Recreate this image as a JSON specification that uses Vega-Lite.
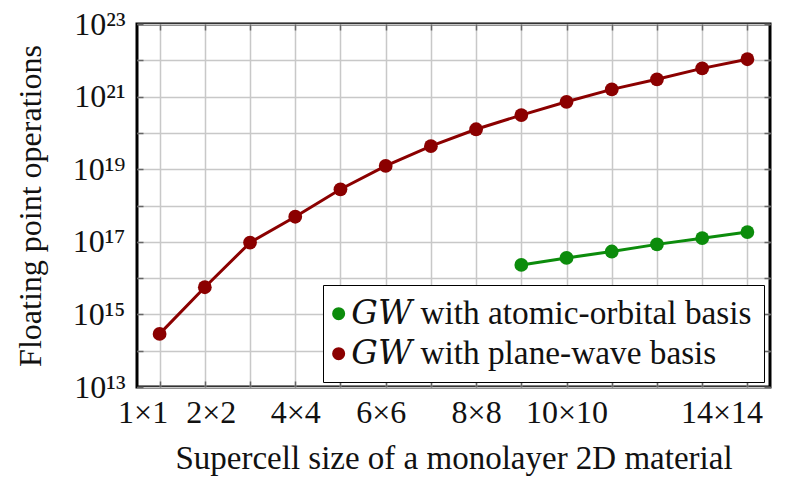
{
  "$schema": "https://vega.github.io/schema/vega-lite/v6.json",
  "width": 633,
  "height": 363,
  "autosize": "none",
  "padding": {"left": 137, "top": 24, "right": 18, "bottom": 90},
  "config": {
    "font": "Liberation Serif",
    "view": {"stroke": "black", "strokeWidth": 3},
    "axis": {"domain": false, "gridColor": "#c8c8c8", "gridWidth": 1.5, "tickColor": "#666", "tickWidth": 1.5, "labelColor": "#111", "titleColor": "#111", "labelFont": "Liberation Serif", "titleFont": "Liberation Serif", "titleFontWeight": "normal"}
  },
  "data": {"values": [
    {"n": 1, "flops": 2.9e14, "series": "𝐺𝑊 with plane-wave basis"},
    {"n": 2, "flops": 5.6e15, "series": "𝐺𝑊 with plane-wave basis"},
    {"n": 3, "flops": 9.5e16, "series": "𝐺𝑊 with plane-wave basis"},
    {"n": 4, "flops": 4.9e17, "series": "𝐺𝑊 with plane-wave basis"},
    {"n": 5, "flops": 2.8e18, "series": "𝐺𝑊 with plane-wave basis"},
    {"n": 6, "flops": 1.23e19, "series": "𝐺𝑊 with plane-wave basis"},
    {"n": 7, "flops": 4.3e19, "series": "𝐺𝑊 with plane-wave basis"},
    {"n": 8, "flops": 1.26e20, "series": "𝐺𝑊 with plane-wave basis"},
    {"n": 9, "flops": 3.1e20, "series": "𝐺𝑊 with plane-wave basis"},
    {"n": 10, "flops": 7.2e20, "series": "𝐺𝑊 with plane-wave basis"},
    {"n": 11, "flops": 1.58e21, "series": "𝐺𝑊 with plane-wave basis"},
    {"n": 12, "flops": 3.0e21, "series": "𝐺𝑊 with plane-wave basis"},
    {"n": 13, "flops": 6.0e21, "series": "𝐺𝑊 with plane-wave basis"},
    {"n": 14, "flops": 1.07e22, "series": "𝐺𝑊 with plane-wave basis"},
    {"n": 9, "flops": 2.3e16, "series": "𝐺𝑊 with atomic-orbital basis"},
    {"n": 10, "flops": 3.6e16, "series": "𝐺𝑊 with atomic-orbital basis"},
    {"n": 11, "flops": 5.4e16, "series": "𝐺𝑊 with atomic-orbital basis"},
    {"n": 12, "flops": 8.5e16, "series": "𝐺𝑊 with atomic-orbital basis"},
    {"n": 13, "flops": 1.26e17, "series": "𝐺𝑊 with atomic-orbital basis"},
    {"n": 14, "flops": 1.85e17, "series": "𝐺𝑊 with atomic-orbital basis"}
  ]},
  "resolve": {"axis": {"x": "independent", "y": "independent"}, "legend": {"color": "independent"}},
  "layer": [
    {
      "mark": {"type": "line", "strokeWidth": 3},
      "encoding": {
        "x": {"field": "n", "type": "quantitative",
          "scale": {"domain": [0.5, 14.5], "nice": false, "zero": false},
          "axis": {"orient": "bottom", "values": [1,2,3,4,5,6,7,8,9,10,11,12,13,14],
            "labelExpr": "indexof([1,2,4,6,8,10,14], datum.value) >= 0 ? datum.value + '×' + datum.value : ''",
            "labelOverlap": false,
            "labelOffset": {"condition": [{"test": "datum.value == 1", "value": -17}, {"test": "datum.value == 2", "value": 6}, {"test": "datum.value == 6", "value": -5}, {"test": "datum.value == 14", "value": -26}], "value": 0},
            "tickSize": -6, "labelPadding": 16, "labelFontSize": 32, "labelFlush": false,
            "title": "Supercell size of a monolayer 2D material", "titleFontSize": 33, "titlePadding": 14}},
        "y": {"field": "flops", "type": "quantitative",
          "scale": {"type": "log", "domain": [1e13, 1e23], "nice": false},
          "axis": {"orient": "left", "values": [1e13,1e14,1e15,1e16,1e17,1e18,1e19,1e20,1e21,1e22,1e23],
            "labelExpr": "round(log(datum.value)/LN10) % 2 == 1 ? '10' + substring('⁰¹²³⁴⁵⁶⁷⁸⁹', floor(round(log(datum.value)/LN10)/10), floor(round(log(datum.value)/LN10)/10)+1) + substring('⁰¹²³⁴⁵⁶⁷⁸⁹', round(log(datum.value)/LN10) % 10, round(log(datum.value)/LN10) % 10 + 1) : ''",
            "labelOverlap": false,
            "tickSize": -6, "labelPadding": 18, "labelFontSize": 32, "labelFlush": false,
            "title": "Floating point operations", "titleFontSize": 32, "titlePadding": 25}},
        "color": {"field": "series", "type": "nominal",
          "scale": {"domain": ["𝐺𝑊 with atomic-orbital basis", "𝐺𝑊 with plane-wave basis"], "range": ["#0c8c0c", "#8b0000"]},
          "legend": null}
      }
    },
    {
      "mark": {"type": "point", "filled": true, "size": 190, "opacity": 1},
      "encoding": {
        "x": {"field": "n", "type": "quantitative",
          "scale": {"domain": [0.5, 14.5], "nice": false, "zero": false},
          "axis": {"orient": "top", "values": [1,2,3,4,5,6,7,8,9,10,11,12,13,14], "labels": false, "grid": false, "tickSize": -6, "title": null}},
        "y": {"field": "flops", "type": "quantitative",
          "scale": {"type": "log", "domain": [1e13, 1e23], "nice": false},
          "axis": {"orient": "right", "values": [1e13,1e14,1e15,1e16,1e17,1e18,1e19,1e20,1e21,1e22,1e23], "labels": false, "grid": false, "tickSize": -6, "title": null}},
        "color": {"field": "series", "type": "nominal",
          "legend": {"orient": "none", "legendX": 186, "legendY": 261, "title": null, "strokeColor": "black", "fillColor": "white",
            "padding": 12, "labelFontSize": 33.3, "labelFont": "Liberation Serif, DejaVu Serif", "labelColor": "#111", "symbolType": "circle", "symbolSize": 170, "symbolStrokeWidth": 0, "symbolOffset": -13, "rowPadding": 6, "labelOffset": -4, "labelLimit": 600,
            "encode": {"legend": {"update": {"strokeWidth": {"value": 3}}}}}}
      }
    }
  ]
}
